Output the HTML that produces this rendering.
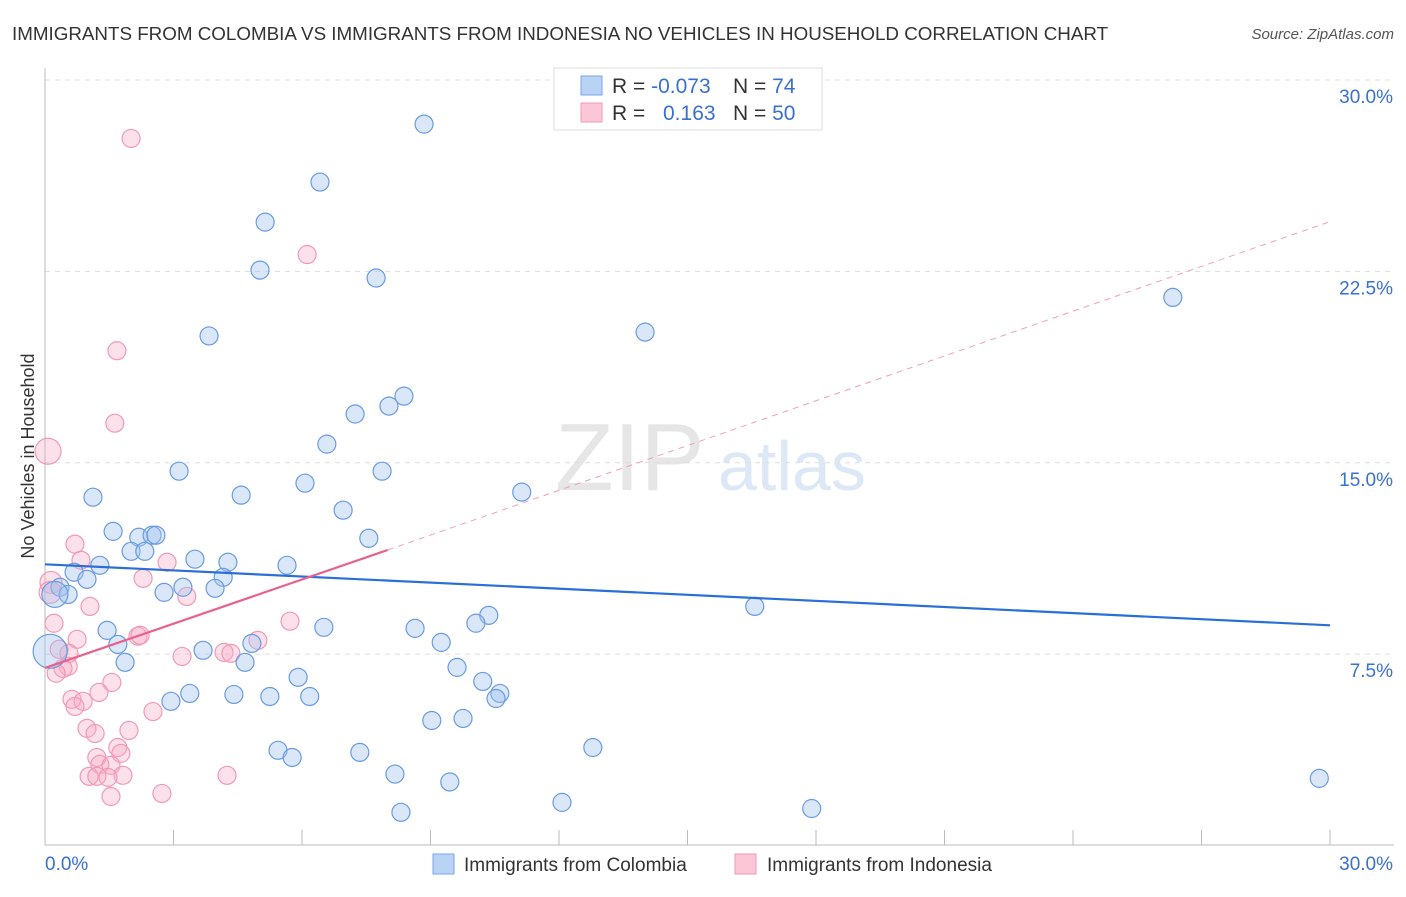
<!DOCTYPE html>
<html><head><meta charset="utf-8"><style>
body{margin:0;background:#fff;font-family:"Liberation Sans",sans-serif}
svg text{font-family:"Liberation Sans",sans-serif}
</style></head><body>
<svg id="c" width="1406" height="892" xmlns="http://www.w3.org/2000/svg">
<text x="12" y="40" font-size="18.8" fill="#333">IMMIGRANTS FROM COLOMBIA VS IMMIGRANTS FROM INDONESIA NO VEHICLES IN HOUSEHOLD CORRELATION CHART</text>
<text x="1394" y="39" font-size="15" fill="#555" font-style="italic" text-anchor="end">Source: ZipAtlas.com</text>
<text x="555" y="490" font-size="96" fill="#e6e6e6" font-family="Liberation Serif">ZIP</text>
<text x="718" y="490" font-size="70" fill="#dce8f6">atlas</text>
<text transform="translate(34,456) rotate(-90)" font-size="18" fill="#333" text-anchor="middle">No Vehicles in Household</text>
<g id="grid"></g><g id="marks"></g>
<g>
<rect x="554" y="68" width="268" height="62" fill="#fff" stroke="#ddd"/>
<rect x="581" y="76" width="21" height="19" fill="#b9d3f5" stroke="#7aa5e6"/>
<rect x="581" y="103" width="21" height="19" fill="#fbc6d6" stroke="#f09ab5"/>
<text x="612" y="93" font-size="21" fill="#333">R = <tspan fill="#3a70d0">-0.073</tspan></text>
<text x="733" y="93" font-size="21" fill="#333">N = <tspan fill="#3a70d0"> 74</tspan></text>
<text x="612" y="120" font-size="21" fill="#333">R = </text>
<text x="663" y="120" font-size="21" fill="#3a70d0">0.163</text>
<text x="733" y="120" font-size="21" fill="#333">N = <tspan fill="#3a70d0">50</tspan></text>
</g>
<g>
<rect x="433" y="854" width="21" height="20" fill="#b9d3f5" stroke="#7aa5e6"/>
<text x="464" y="871" font-size="19" fill="#333">Immigrants from Colombia</text>
<rect x="735" y="854" width="21" height="20" fill="#fbc6d6" stroke="#f09ab5"/>
<text x="767" y="871" font-size="19" fill="#333">Immigrants from Indonesia</text>
</g>
</svg>
<script>
const yTicks=[7.5,15,22.5,30];
const yTickLabels=["7.5%","15.0%","22.5%","30.0%"];
const colX=[8.85,6.42,5.14,5.02,7.73,3.83,14.01,26.33,8.38,8.03,7.24,6.58,3.13,7.87,4.58,6.07,1.12,11.13,6.96,1.59,2.19,2.50,2.59,7.56,3.50,2.01,2.33,4.27,1.28,5.65,0.68,0.98,4.16,3.22,3.97,2.78,0.35,0.54,10.36,10.06,16.57,1.45,6.51,8.64,9.25,4.83,1.70,3.69,4.67,1.87,9.62,5.91,10.22,10.62,10.53,2.94,3.38,4.41,5.25,6.18,9.03,9.76,12.79,5.44,7.35,5.77,8.17,9.45,12.07,8.31,17.90,29.75,0.12,0.23];
const colY=[28.27,26.0,24.43,22.55,22.24,19.97,20.12,21.48,17.61,17.22,16.91,15.73,14.67,14.67,13.73,14.20,13.65,13.85,13.14,12.31,12.08,12.16,12.16,12.04,11.22,11.53,11.53,11.10,10.98,10.98,10.71,10.43,10.51,10.12,10.08,9.92,10.12,9.84,9.02,8.71,9.37,8.43,8.55,8.51,7.96,7.92,7.88,7.65,7.18,7.18,6.98,6.59,6.43,5.96,5.76,5.65,5.96,5.92,5.84,5.84,4.90,4.98,3.84,3.73,3.65,3.45,2.80,2.49,1.69,1.30,1.45,2.63,7.61,9.84];
const colR=[9,9,9,9,9,9,9,9,9,9,9,9,9,9,9,9,9,9,9,9,9,9,9,9,9,9,9,9,9,9,9,9,9,9,9,9,9,9,9,9,9,9,9,9,9,9,9,9,9,9,9,9,9,9,9,9,9,9,9,9,9,9,9,9,9,9,9,9,9,9,9,9,17,13];
const indX=[2.01,6.12,1.68,1.63,0.07,0.70,0.84,2.85,2.29,0.14,0.12,3.31,1.05,0.21,5.72,0.75,2.17,2.22,4.97,3.20,4.18,4.34,0.56,0.33,0.54,0.42,0.26,1.56,1.26,0.63,0.89,0.70,2.52,0.98,1.17,1.96,1.70,1.21,1.77,1.28,1.54,1.03,1.21,1.82,1.47,4.25,1.54,2.73];
const indY=[27.71,23.16,19.39,16.55,15.45,11.81,11.18,11.10,10.47,10.31,9.92,9.76,9.37,8.71,8.79,8.08,8.20,8.24,8.04,7.41,7.57,7.53,7.53,7.69,7.02,6.94,6.75,6.39,6.00,5.73,5.65,5.45,5.25,4.59,4.39,4.51,3.84,3.45,3.61,3.18,3.14,2.71,2.71,2.75,2.67,2.75,1.92,2.04];
const indR=[9,9,9,9,13,9,9,9,9,11,11,9,9,9,9,9,9,9,9,9,9,9,9,9,9,9,9,9,9,9,9,9,9,9,9,9,9,9,9,9,9,9,9,9,9,9,9,9];
const colTrend=[11.02,8.63];
const indTrend=[6.96,11.58,24.45];
const indSolidEnd=8.0;
const X0=45,X1=1330,Y0=845.5,Y1=80;
const sx=v=>X0+v/30*(X1-X0), sy=v=>Y0-v/30*(Y0-Y1);
const NS="http://www.w3.org/2000/svg";
const grid=document.getElementById('grid'), marks=document.getElementById('marks');
function mk(tag,at,parent){const e=document.createElementNS(NS,tag);for(const k in at)e.setAttribute(k,at[k]);parent.appendChild(e);return e;}
yTicks.forEach((t,i)=>{
 const l=mk('line',{x1:45,x2:1394,y1:sy(t),y2:sy(t),stroke:'#ddd','stroke-dasharray':'5,5'},grid);
 
 
 const tx=mk('text',{x:1393,y:sy(t)+23,'font-size':19,fill:'#3a70d0','text-anchor':'end'},grid);
 tx.textContent=yTickLabels[i];
 
 
});
const ax=mk('line',{x1:45,x2:45,y1:68,y2:845,stroke:'#bbb'},grid);


const bx=mk('line',{x1:45,x2:1394,y1:845,y2:845,stroke:'#bbb'},grid);


for(let i=1;i<=10;i++){const v=i*3;const t=mk('line',{x1:sx(v),x2:sx(v),y1:830,y2:845,stroke:'#bbb'},grid);
 
 }
const xl0=mk('text',{x:45,y:870,'font-size':19,fill:'#3a70d0'},grid);xl0.textContent='0.0%';


const xl1=mk('text',{x:1393,y:870,'font-size':19,fill:'#3a70d0','text-anchor':'end'},grid);xl1.textContent='30.0%';


indX.forEach((x,i)=>{const c=mk('circle',{cx:sx(x),cy:sy(indY[i]),r:indR[i],fill:'rgba(248,170,195,0.35)',stroke:'#f09ab5','stroke-width':1.2},marks);
 
 });
colX.forEach((x,i)=>{const c=mk('circle',{cx:sx(x),cy:sy(colY[i]),r:colR[i],fill:'rgba(160,195,240,0.4)',stroke:'#6a9be0','stroke-width':1.2},marks);
 
 });
const bl=mk('line',{x1:sx(0),y1:sy(colTrend[0]),x2:sx(30),y2:sy(colTrend[1]),stroke:'#2a6fd6','stroke-width':2.2},marks);


const pl=mk('line',{x1:sx(0),y1:sy(indTrend[0]),x2:sx(indSolidEnd),y2:sy(indTrend[1]),stroke:'#e8628c','stroke-width':2.2},marks);


const pd=mk('line',{x1:sx(indSolidEnd),y1:sy(indTrend[1]),x2:sx(30),y2:sy(indTrend[2]),stroke:'#eea0b8','stroke-width':1,'stroke-dasharray':'6,5'},marks);


</script>
</body></html>
